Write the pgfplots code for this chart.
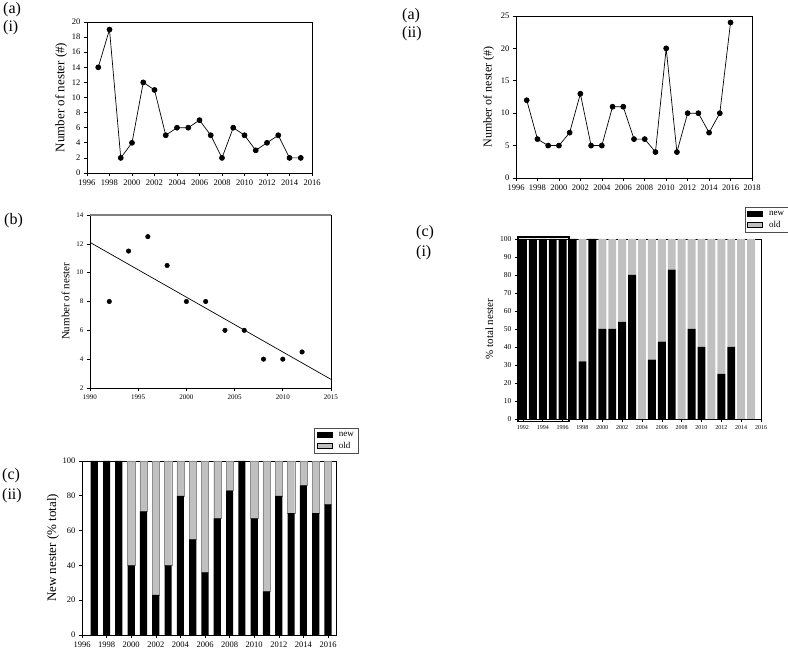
\documentclass[border=0pt]{standalone}
\usepackage{fontspec}
\setmainfont{Liberation Serif}
\usepackage{pgfplots}
\pgfplotsset{compat=1.18}
\definecolor{oldgray}{RGB}{192,192,192}
\pgfplotsset{
  base/.style={scale only axis, anchor=south west, clip=false,
    /pgf/number format/assume math mode=true,
    /pgf/number format/1000 sep={},
    tick align=outside, tick pos=left, major tick length=3pt,
    axis line style={line width=0.8pt},
    every tick/.style={black, line width=0.6pt}},
  legimg/.style={legend image code/.code={\draw[##1, draw=black, line width=0.3pt] (0pt,-2.5pt) rectangle (15pt,2.5pt);}},
}
\newcommand{\fs}[1]{\fontsize{#1}{#1}\selectfont}
\begin{document}
\begin{tikzpicture}
\path[use as bounding box] (0pt,0pt) rectangle (788pt,656pt);

% panel labels
\tikzset{plab/.style={anchor=north west, inner sep=0pt, font=\fs{16}}}
\node[plab] at (3pt,654pt) {(a)};
\node[plab] at (3pt,636pt) {(i)};
\node[plab] at (402pt,648pt) {(a)};
\node[plab] at (402pt,630pt) {(ii)};
\node[plab] at (4pt,443pt) {(b)};
\node[plab] at (416pt,431pt) {(c)};
\node[plab] at (416pt,411pt) {(i)};
\node[plab] at (2pt,188pt) {(c)};
\node[plab] at (2pt,168pt) {(ii)};

% ---------- a(i)
\begin{axis}[base, at={(87pt,483pt)}, width=225pt, height=151pt,
  xmin=1996, xmax=2016, ymin=0, ymax=20,
  xtick={1996,1998,...,2016}, ytick={0,2,...,20},
  tick label style={font=\fs{8.5}},
  ylabel={Number of nester (\#)}, ylabel style={font=\fs{13}, yshift=-2pt}]
\addplot[black, line width=0.7pt, mark=*, mark size=2.5pt] coordinates {
(1997,14) (1998,19) (1999,2) (2000,4) (2001,12) (2002,11) (2003,5) (2004,6)
(2005,6) (2006,7) (2007,5) (2008,2) (2009,6) (2010,5) (2011,3) (2012,4)
(2013,5) (2014,2) (2015,2)};
\end{axis}

% ---------- a(ii)
\begin{axis}[base, at={(516pt,478pt)}, width=236pt, height=162pt,
  xmin=1996, xmax=2018, ymin=0, ymax=25,
  xtick={1996,1998,...,2018}, ytick={0,5,...,25},
  tick label style={font=\fs{8.5}},
  ylabel={Number of nester (\#)}, ylabel style={font=\fs{12}}]
\addplot[black, line width=0.7pt, mark=*, mark size=2.5pt] coordinates {
(1997,12) (1998,6) (1999,5) (2000,5) (2001,7) (2002,13) (2003,5) (2004,5)
(2005,11) (2006,11) (2007,6) (2008,6) (2009,4) (2010,20) (2011,4) (2012,10)
(2013,10) (2014,7) (2015,10) (2016,24)};
\end{axis}

% ---------- b
\begin{axis}[base, at={(90pt,268pt)}, width=241pt, height=173pt,
  xmin=1990, xmax=2015, ymin=2, ymax=14,
  xtick={1990,1995,...,2015}, ytick={2,4,...,14},
  tick label style={font=\fs{7}},
  ylabel={Number of nester}, ylabel style={font=\fs{11}}]
\addplot[only marks, black, mark=*, mark size=2.3pt] coordinates {
(1992,8) (1994,11.5) (1996,12.5) (1998,10.5) (2000,8) (2002,8) (2004,6)
(2006,6) (2008,4) (2010,4) (2012,4.5)};
\addplot[black, line width=0.7pt] coordinates {(1990,12.1) (2015,2.6)};
\draw[gray, line width=1.6pt] (rel axis cs:0,1) -- (rel axis cs:1,1);
\end{axis}

% ---------- c(i)
\begin{axis}[base, at={(518pt,237pt)}, width=243pt, height=180pt,
  ybar stacked, bar width=0.8,
  xmin=1991.5, xmax=2016, ymin=0, ymax=100,
  xtick={1992,1994,...,2016}, ytick={0,10,...,100},
  xticklabel style={font=\fs{6}}, yticklabel style={font=\fs{7.5}},
  ylabel={\% total nester}, ylabel style={font=\fs{11}},
  legend style={at={(1.112,1.178)}, anchor=north east, font=\fs{9},
    draw=black!70, line width=0.4pt, inner sep=2pt, row sep=0pt,
    cells={anchor=west}, /tikz/every odd column/.append style={column sep=5pt}}]
\addplot[fill=black, draw=none, legimg] coordinates {
(1992,100) (1993,100) (1994,100) (1995,100) (1996,100) (1997,100) (1998,32)
(1999,100) (2000,50) (2001,50) (2002,54) (2003,80) (2004,0) (2005,33)
(2006,43) (2007,83) (2008,0) (2009,50) (2010,40) (2011,0) (2012,25)
(2013,40) (2014,0) (2015,0)};
\addplot[fill=oldgray, draw=none, legimg] coordinates {
(1992,0) (1993,0) (1994,0) (1995,0) (1996,0) (1997,0) (1998,68)
(1999,0) (2000,50) (2001,50) (2002,46) (2003,20) (2004,100) (2005,67)
(2006,57) (2007,17) (2008,100) (2009,50) (2010,60) (2011,100) (2012,75)
(2013,60) (2014,100) (2015,100)};
\legend{new, old}
\draw[black, line width=1.5pt] (axis cs:1991.5,-1.5) rectangle (axis cs:1996.65,101);
\end{axis}

% ---------- c(ii)
\begin{axis}[base, at={(82pt,21pt)}, width=254pt, height=174pt,
  ybar stacked, bar width=0.58,
  xmin=1996, xmax=2016.65, ymin=0, ymax=100,
  xtick={1996,1998,...,2016}, ytick={0,20,...,100},
  tick label style={font=\fs{8.5}},
  ylabel={New nester (\% total)}, ylabel style={font=\fs{13}, yshift=-3pt},
  legend style={at={(1.087,1.19)}, anchor=north east, font=\fs{9},
    draw=black!70, line width=0.4pt, inner sep=2pt, row sep=0pt,
    cells={anchor=west}, /tikz/every odd column/.append style={column sep=5pt}}]
\addplot[fill=black, draw=none, legimg] coordinates {
(1997,100) (1998,100) (1999,100) (2000,40) (2001,71) (2002,23) (2003,40)
(2004,80) (2005,55) (2006,36) (2007,67) (2008,83) (2009,100) (2010,67)
(2011,25) (2012,80) (2013,70) (2014,86) (2015,70) (2016,75)};
\addplot[fill=oldgray, draw=black!45, line width=0.3pt, legimg] coordinates {
(1997,0) (1998,0) (1999,0) (2000,60) (2001,29) (2002,77) (2003,60)
(2004,20) (2005,45) (2006,64) (2007,33) (2008,17) (2009,0) (2010,33)
(2011,75) (2012,20) (2013,30) (2014,14) (2015,30) (2016,25)};
\legend{new, old}
\draw[black, line width=0.6pt] (axis cs:1996,0) rectangle (axis cs:1998.7,100);
\end{axis}
\end{tikzpicture}
\end{document}
